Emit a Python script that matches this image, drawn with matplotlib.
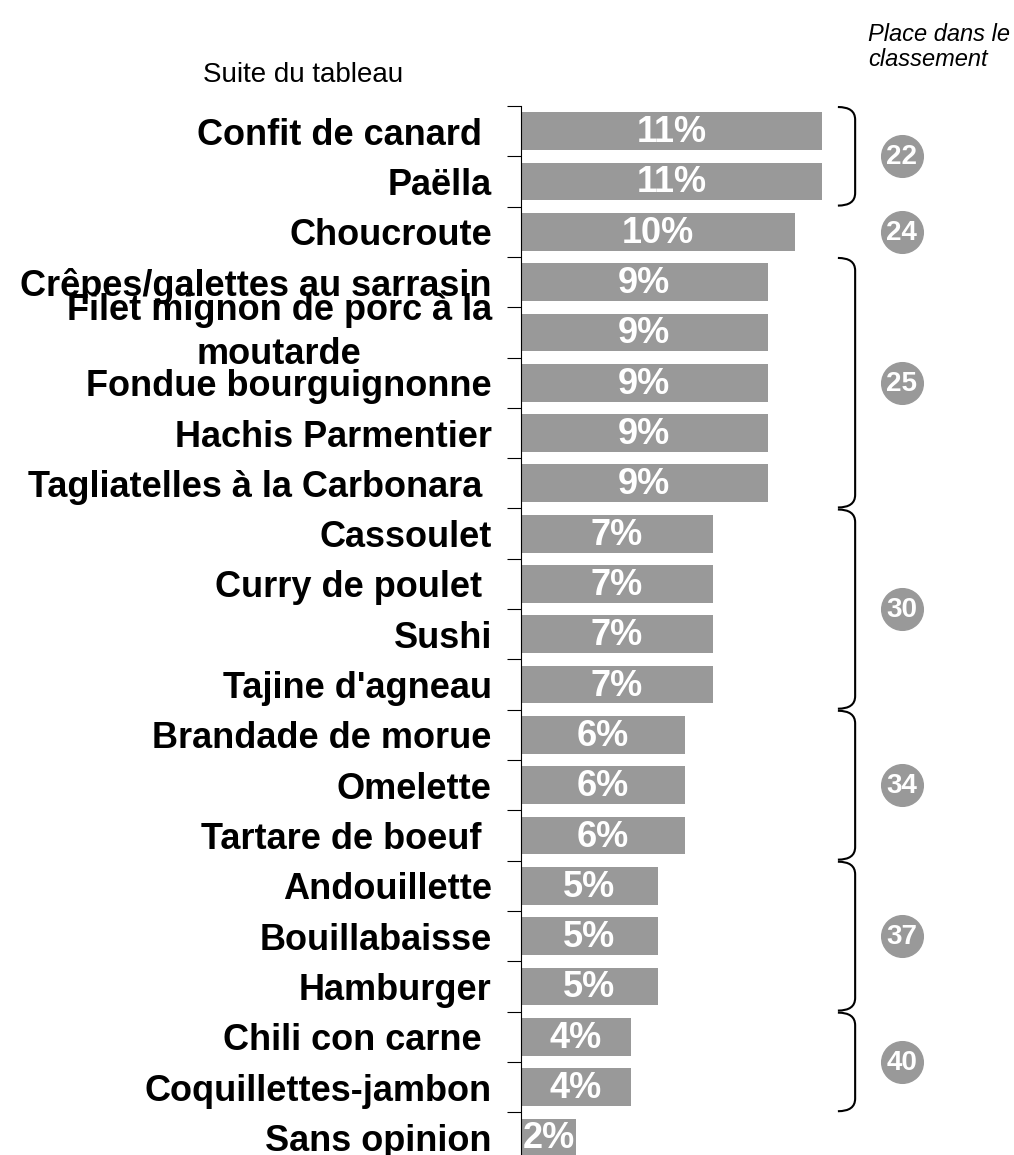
import numpy as np
import matplotlib.pyplot as plt
from matplotlib.path import Path
from matplotlib.patches import PathPatch

plt.rcParams['font.family'] = ['Liberation Sans', 'DejaVu Sans']

# Data
labels = ['Confit de canard ', 'Paëlla', 'Choucroute', 'Crêpes/galettes au sarrasin',
          'Filet mignon de porc à la\nmoutarde', 'Fondue bourguignonne', 'Hachis Parmentier',
          'Tagliatelles à la Carbonara ', 'Cassoulet', 'Curry de poulet ', 'Sushi',
          "Tajine d'agneau", 'Brandade de morue', 'Omelette', 'Tartare de boeuf ',
          'Andouillette', 'Bouillabaisse', 'Hamburger', 'Chili con carne ',
          'Coquillettes-jambon', 'Sans opinion']
values = [11, 11, 10, 9, 9, 9, 9, 9, 7, 7, 7, 7, 6, 6, 6, 5, 5, 5, 4, 4, 2]

# ranking groups: first row, last row, rank
group_first = [0, 2, 3, 8, 12, 15, 18]
group_last = [1, 2, 7, 11, 14, 17, 19]
group_rank = [22, 24, 25, 30, 34, 37, 40]

bar_color = '#999999'

fig = plt.figure(figsize=(10.14, 11.55), dpi=100)
ax = fig.add_axes([521 / 1014, 0, 1 - 521 / 1014, 1 - 106 / 1155])

rows = np.arange(len(values))
ax.barh(rows, values, height=0.75, color=bar_color)
for i, v in enumerate(values):
    ax.text(v / 2, i + 0.03, f'{v}%', ha='center', va='center', color='white',
            fontweight='bold', fontsize=26)

ax.set_xlim(0, 18)
ax.set_ylim(20.35, -0.5)

# one-line labels as tick labels, the two-line one placed by hand
ax.set_yticks(rows)
ax.set_yticklabels(['' if '\n' in l else l for l in labels], fontsize=26,
                   fontweight='bold')
for i, l in enumerate(labels):
    if '\n' in l:
        ax.annotate(l, xy=(0, i), xycoords=('axes fraction', 'data'),
                    xytext=(-21, 0), textcoords='offset points', ha='right',
                    va='center', multialignment='center', fontsize=26,
                    fontweight='bold', linespacing=1.33)
ax.tick_params(axis='y', which='major', length=0, pad=21)
ax.set_yticks(np.arange(-0.5, 20, 1), minor=True)
ax.tick_params(axis='y', which='minor', length=10, width=0.8, direction='out')
ax.set_xticks([])
for s in ['top', 'right', 'bottom']:
    ax.spines[s].set_visible(False)
ax.spines['left'].set_linewidth(0.8)

# braces and rank circles
bx0, bx1 = 11.57, 12.2
curl = 0.25
for a, b, r in zip(group_first, group_last, group_rank):
    mid = (a + b) / 2
    if b > a:
        top = a - 0.48
        bot = b + 0.48
        verts = [(bx0, top), (bx1, top), (bx1, top + curl),
                 (bx1, bot - curl),
                 (bx1, bot), (bx0, bot)]
        codes = [Path.MOVETO, Path.CURVE3, Path.CURVE3,
                 Path.LINETO, Path.CURVE3, Path.CURVE3]
        ax.add_patch(PathPatch(Path(verts, codes), fill=False, lw=1.5,
                               edgecolor='black', clip_on=False))
    ax.scatter([13.9], [mid], s=900, color=bar_color, clip_on=False, zorder=3)
    ax.text(13.9, mid + 0.02, str(r), ha='center', va='center', color='white',
            fontweight='bold', fontsize=20, zorder=4)

fig.text(203 / 1014, 1 - 75 / 1155, 'Suite du tableau', ha='left', va='center',
         fontsize=20)
fig.text(868 / 1014, 1 - 23 / 1155, 'Place dans le\nclassement', ha='left', va='top',
         fontsize=17, style='italic', linespacing=1.1)

fig.savefig('out.png', dpi=100)
